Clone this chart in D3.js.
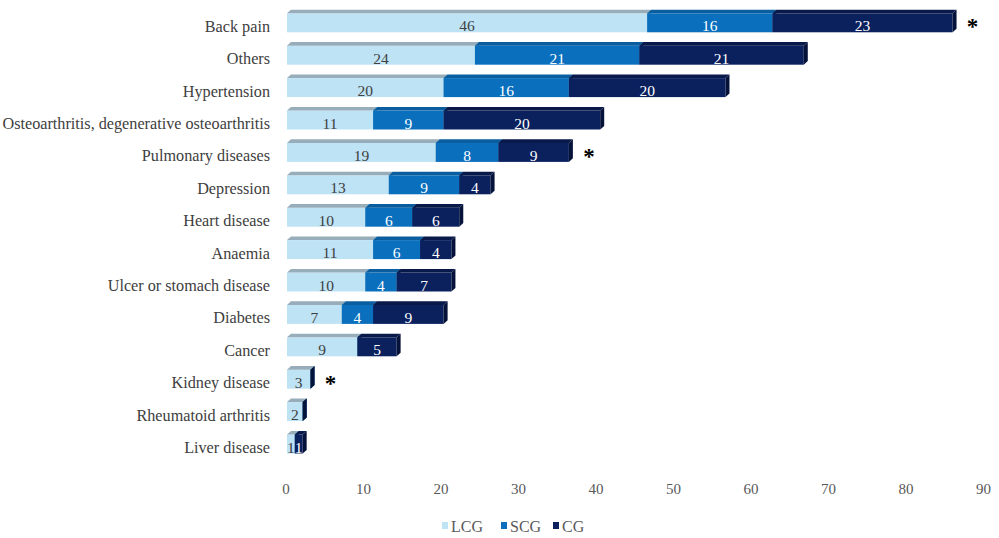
<!DOCTYPE html>
<html>
<head>
<meta charset="utf-8">
<script src="https://cdn.jsdelivr.net/npm/d3@7"></script>
<style>
  body { margin: 0; background: #fff; }
  text { font-family: "Liberation Serif", "Times New Roman", serif; }
</style>
</head>
<body>
<svg id="chart" width="999" height="538"></svg>
<script>
// data
let categorias = ["Back pain","Others","Hypertension","Osteoarthritis, degenerative osteoarthritis",
  "Pulmonary diseases","Depression","Heart disease","Anaemia","Ulcer or stomach disease",
  "Diabetes","Cancer","Kidney disease","Rheumatoid arthritis","Liver disease"];
let grupos = ["LCG","SCG","CG"];
let lcg = [46,24,20,11,19,13,10,11,10,7,9,3,2,1];
let scg = [16,21,16,9,8,9,6,6,4,4,0,0,0,0];
let cg  = [23,21,20,20,9,4,6,4,7,9,5,0,0,1];
let significativos = ["Back pain","Pulmonary diseases","Kidney disease"];
let ticks = [0,10,20,30,40,50,60,70,80,90];

let frente = {LCG:"#bee3f5", SCG:"#0a6fbd", CG:"#0a215e"};
let techo  = {LCG:"#97adba", SCG:"#0a5e9f", CG:"#08194a"};
let lado   = {LCG:"#8db3c7", SCG:"#064f8c", CG:"#05123a"};
let textos = {LCG:"#404040", SCG:"#ffffff", CG:"#ffffff"};

let filas = categorias.map((c,i) => ({cat:c, LCG:lcg[i], SCG:scg[i], CG:cg[i]}));
let series = d3.stack().keys(grupos)(filas);

let svg = d3.select("#chart");
let prof = {dx:4, dy:3.6};

// axis scale (floor) and bar front-face scale
let scx = d3.scaleLinear([0,90],[285.5,983]);
let scb = d3.scaleLinear([0,90],[287,991.7]);
let scy = d3.scaleBand(categorias,[6.6,6.6+32.4*14]).paddingInner(0.414).paddingOuter(0.207);
let bh = scy.bandwidth();

let gbar = svg.append("g");
categorias.forEach((c,i) => {
  let g = gbar.append("g");
  series.forEach(s => {
    let d = s[i];
    let x0 = scb(d[0]), x1 = scb(d[1]), y0 = scy(c), y1 = y0 + bh;
    let k = s.key;
    g.append("rect")
      .attr("x",x0).attr("y",y0)
      .attr("width",x1-x0).attr("height",bh)
      .attr("fill",frente[k]);
    g.append("path")
      .attr("d",`M${x0},${y0}L${x0+prof.dx},${y0-prof.dy}L${x1+prof.dx},${y0-prof.dy}L${x1},${y0}Z`)
      .attr("fill",techo[k]);
    g.append("path")
      .attr("d",`M${x1},${y0}L${x1+prof.dx},${y0-prof.dy}L${x1+prof.dx},${y1-prof.dy}L${x1},${y1}Z`)
      .attr("fill",lado[k]);
  });
  series.forEach(s => {
    let d = s[i];
    if (d[1]-d[0] <= 0) return;
    g.append("text")
      .attr("x",(scb(d[0])+scb(d[1]))/2)
      .attr("y",scy(c)+bh/2+3)
      .attr("text-anchor","middle")
      .attr("dominant-baseline","central")
      .attr("font-size",15.5)
      .attr("fill",textos[s.key])
      .text(d[1]-d[0]);
  });
});

// asterisks
svg.selectAll(".aster")
  .data(filas.filter(f => significativos.includes(f.cat)))
  .join("text")
  .attr("class","aster")
  .attr("x",f => scb(f.LCG+f.SCG+f.CG)+20)
  .attr("y",f => scy(f.cat)+bh/2+4)
  .attr("text-anchor","middle")
  .attr("dominant-baseline","central")
  .attr("font-family","DejaVu Sans")
  .attr("font-weight","bold")
  .attr("font-size",23)
  .attr("fill","#000")
  .text("*");

// category labels
svg.selectAll(".cat")
  .data(categorias)
  .join("text")
  .attr("class","cat")
  .attr("x",270)
  .attr("y",c => scy(c)+bh/2+4)
  .attr("text-anchor","end")
  .attr("dominant-baseline","central")
  .attr("font-size",16.2)
  .attr("fill","#404040")
  .text(c => c);

// x axis labels
let eje = d3.axisBottom(scx).tickValues(ticks).tickSize(0).tickPadding(0);
let gx = svg.append("g").attr("transform","translate(0,483)").call(eje);
gx.select(".domain").remove();
gx.selectAll("text")
  .attr("font-family","Liberation Serif")
  .attr("font-size",15)
  .attr("fill","#595959");

// legend
let leg = [{k:"LCG",x:442},{k:"SCG",x:501},{k:"CG",x:553}];
let gl = svg.append("g");
gl.selectAll("rect")
  .data(leg)
  .join("rect")
  .attr("x",d => d.x).attr("y",522)
  .attr("width",6).attr("height",7)
  .attr("fill",d => frente[d.k]);
gl.selectAll("text")
  .data(leg)
  .join("text")
  .attr("x",d => d.x+9).attr("y",526)
  .attr("dominant-baseline","central")
  .attr("font-size",16)
  .attr("fill","#595959")
  .text(d => d.k);
</script>
</body>
</html>
